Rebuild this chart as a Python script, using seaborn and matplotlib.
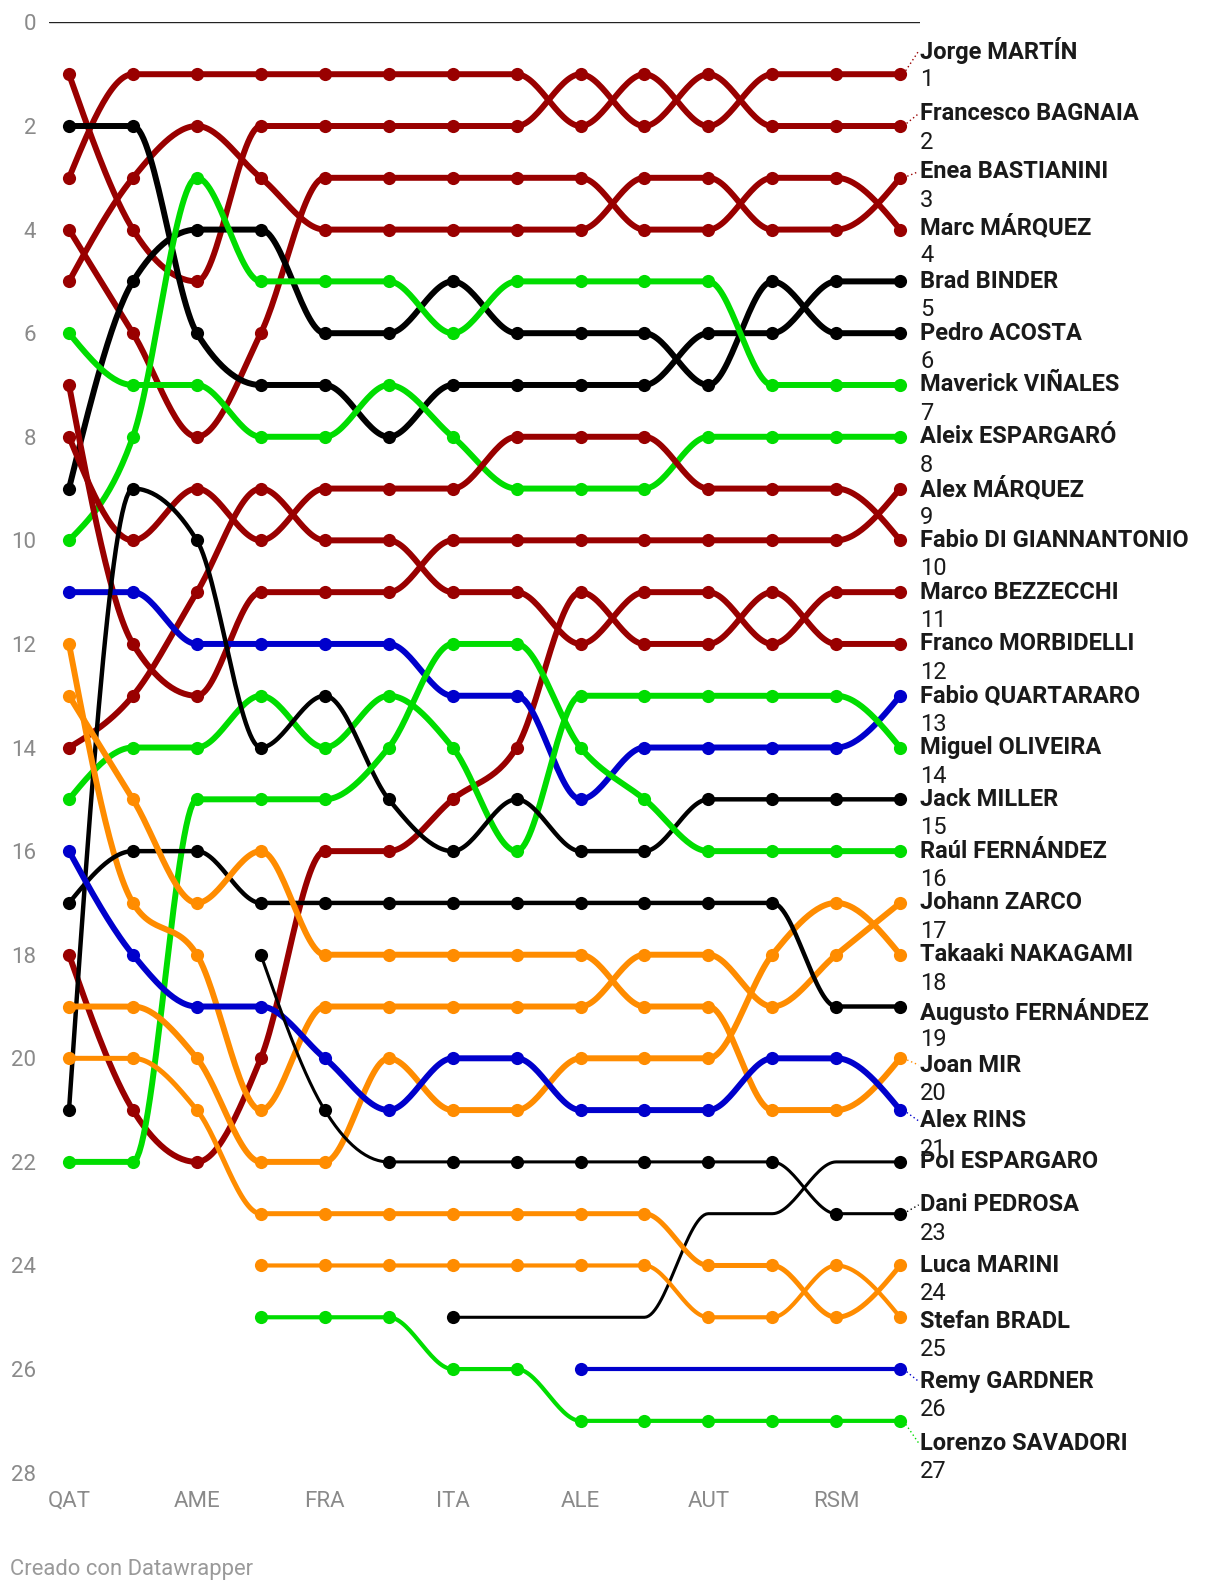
"""
MotoGP 2024 championship positions after each round (bump chart)
"""

import numpy as np
import pandas as pd
import matplotlib
matplotlib.use("Agg")
import matplotlib.pyplot as plt
import seaborn as sns

# rounds (only every second one gets a tick label)
rounds = ["QAT", "POR", "AME", "ESP", "FRA", "CAT", "ITA",
          "NED", "ALE", "GBR", "AUT", "ARA", "RSM", "EMI"]

# position after each round, None = not in the standings yet
martin = [3, 1, 1, 1, 1, 1, 1, 1, 2, 1, 2, 1, 1, 1]
bagnaia = [1, 4, 5, 2, 2, 2, 2, 2, 1, 2, 1, 2, 2, 2]
bastianini = [5, 3, 2, 3, 4, 4, 4, 4, 4, 3, 3, 4, 4, 3]
marc_marquez = [4, 6, 8, 6, 3, 3, 3, 3, 3, 4, 4, 3, 3, 4]
binder = [2, 2, 6, 7, 7, 8, 7, 7, 7, 7, 6, 6, 5, 5]
acosta = [9, 5, 4, 4, 6, 6, 5, 6, 6, 6, 7, 5, 6, 6]
vinales = [10, 8, 3, 5, 5, 5, 6, 5, 5, 5, 5, 7, 7, 7]
aleix = [6, 7, 7, 8, 8, 7, 8, 9, 9, 9, 8, 8, 8, 8]
alex_marquez = [7, 12, 13, 11, 11, 11, 10, 10, 10, 10, 10, 10, 10, 9]
diggia = [8, 10, 9, 10, 9, 9, 9, 8, 8, 8, 9, 9, 9, 10]
bezzecchi = [14, 13, 11, 9, 10, 10, 11, 11, 12, 11, 11, 12, 11, 11]
morbidelli = [18, 21, 22, 20, 16, 16, 15, 14, 11, 12, 12, 11, 12, 12]
quartararo = [11, 11, 12, 12, 12, 12, 13, 13, 15, 14, 14, 14, 14, 13]
oliveira = [15, 14, 14, 13, 14, 13, 14, 16, 13, 13, 13, 13, 13, 14]
miller = [21, 9, 10, 14, 13, 15, 16, 15, 16, 16, 15, 15, 15, 15]
raul = [22, 22, 15, 15, 15, 14, 12, 12, 14, 15, 16, 16, 16, 16]
zarco = [12, 17, 18, 21, 19, 19, 19, 19, 19, 18, 18, 19, 18, 17]
nakagami = [19, 19, 20, 22, 22, 20, 21, 21, 20, 20, 20, 18, 17, 18]
augusto = [17, 16, 16, 17, 17, 17, 17, 17, 17, 17, 17, 17, 19, 19]
mir = [13, 15, 17, 16, 18, 18, 18, 18, 18, 19, 19, 21, 21, 20]
rins = [16, 18, 19, 19, 20, 21, 20, 20, 21, 21, 21, 20, 20, 21]
pol = [None, None, None, None, None, None, 25, 25, 25, 25, 23, 23, 22, 22]
pedrosa = [None, None, None, 18, 21, 22, 22, 22, 22, 22, 22, 22, 23, 23]
marini = [20, 20, 21, 23, 23, 23, 23, 23, 23, 23, 24, 24, 25, 24]
bradl = [None, None, None, 24, 24, 24, 24, 24, 24, 24, 25, 25, 24, 25]
gardner = [None, None, None, None, None, None, None, None, 26, 26, 26, 26, 26, 26]
savadori = [None, None, None, 25, 25, 25, 26, 26, 27, 27, 27, 27, 27, 27]

riders = ["Jorge MARTÍN", "Francesco BAGNAIA", "Enea BASTIANINI", "Marc MÁRQUEZ",
          "Brad BINDER", "Pedro ACOSTA", "Maverick VIÑALES", "Aleix ESPARGARÓ",
          "Alex MÁRQUEZ", "Fabio DI GIANNANTONIO", "Marco BEZZECCHI",
          "Franco MORBIDELLI", "Fabio QUARTARARO", "Miguel OLIVEIRA", "Jack MILLER",
          "Raúl FERNÁNDEZ", "Johann ZARCO", "Takaaki NAKAGAMI", "Augusto FERNÁNDEZ",
          "Joan MIR", "Alex RINS", "Pol ESPARGARO", "Dani PEDROSA", "Luca MARINI",
          "Stefan BRADL", "Remy GARDNER", "Lorenzo SAVADORI"]
brands = ["ducati", "ducati", "ducati", "ducati", "ktm", "ktm", "aprilia", "aprilia",
          "ducati", "ducati", "ducati", "ducati", "yamaha", "aprilia", "ktm",
          "aprilia", "honda", "honda", "ktm", "honda", "yamaha", "ktm", "ktm",
          "honda", "honda", "yamaha", "aprilia"]
standings = [martin, bagnaia, bastianini, marc_marquez, binder, acosta, vinales, aleix,
             alex_marquez, diggia, bezzecchi, morbidelli, quartararo, oliveira, miller,
             raul, zarco, nakagami, augusto, mir, rins, pol, pedrosa, marini, bradl,
             gardner, savadori]

palette = {"ducati": "#990000", "ktm": "#000000", "aprilia": "#00dd00",
           "yamaha": "#0000cc", "honda": "#ff8c00"}

# line widths in pt (default 4.3)
widths = {"Jack MILLER": 3.2, "Augusto FERNÁNDEZ": 3.2, "Dani PEDROSA": 2.2,
          "Pol ESPARGARO": 2.2, "Stefan BRADL": 3.0, "Remy GARDNER": 3.0,
          "Lorenzo SAVADORI": 3.0, "Luca MARINI": 3.6}
# riders that only get a marker on first and last value
ends_only = ["Pol ESPARGARO", "Remy GARDNER"]
# label nudges (in rows) where the labels were spread apart
label_shift = {"Jorge MARTÍN": -0.45, "Francesco BAGNAIA": -0.24, "Enea BASTIANINI": -0.12,
               "Marc MÁRQUEZ": -0.05, "Augusto FERNÁNDEZ": 0.09, "Joan MIR": 0.13,
               "Alex RINS": 0.21, "Dani PEDROSA": -0.17, "Stefan BRADL": 0.08,
               "Remy GARDNER": 0.24, "Lorenzo SAVADORI": 0.43}
# the value under this label is hidden behind the next one in the original
no_number = ["Pol ESPARGARO"]


def monotone_curve(xs, ys, steps=30):
    """Same smoothing as d3.curveMonotoneX, sampled as cubic beziers"""
    xs = np.asarray(xs, dtype=float)
    ys = np.asarray(ys, dtype=float)
    n = len(xs)
    if n < 3:
        return xs, ys
    h = np.diff(xs)
    s = np.diff(ys) / h
    t = np.zeros(n)
    for i in range(1, n - 1):
        p = (s[i - 1] * h[i] + s[i] * h[i - 1]) / (h[i - 1] + h[i])
        sg = (-1 if s[i - 1] < 0 else 1) + (-1 if s[i] < 0 else 1)
        t[i] = sg * min(abs(s[i - 1]), abs(s[i]), 0.5 * abs(p))
    t[0] = (3 * s[0] - t[1]) / 2
    t[-1] = (3 * s[-1] - t[-2]) / 2

    u = np.linspace(0, 1, steps + 1)[1:]
    out_x, out_y = [xs[0]], [ys[0]]
    for i in range(n - 1):
        dx = h[i] / 3
        px = [xs[i], xs[i] + dx, xs[i + 1] - dx, xs[i + 1]]
        py = [ys[i], ys[i] + dx * t[i], ys[i + 1] - dx * t[i + 1], ys[i + 1]]
        b = [(1 - u) ** 3, 3 * (1 - u) ** 2 * u, 3 * (1 - u) * u ** 2, u ** 3]
        out_x.extend(sum(b[k] * px[k] for k in range(4)))
        out_y.extend(sum(b[k] * py[k] for k in range(4)))
    return np.array(out_x), np.array(out_y)


sns.set_style("white")
plt.rcParams["font.family"] = ["Roboto", "DejaVu Sans"]

fig = plt.figure(figsize=(12.2, 15.9), dpi=100)
ax = fig.add_axes([0.0399, 0.0738, 0.7142, 0.9121])

ax.axhline(0, color="#222222", lw=1.0, zorder=1)

for name, brand, pos in zip(riders, brands, standings):
    df = pd.DataFrame({"round": np.arange(len(rounds)), "pos": pos}).dropna()
    color = palette[brand]
    cx, cy = monotone_curve(df["round"], df["pos"])
    sns.lineplot(x=cx, y=cy, sort=False, estimator=None, color=color,
                 lw=widths.get(name, 4.3), ax=ax, zorder=2)
    dots = df.iloc[[0, -1]] if name in ends_only else df
    sns.scatterplot(x=dots["round"], y=dots["pos"], color=color, s=90,
                    linewidth=0, ax=ax, zorder=3)

    # label at the end of the line
    final = df["pos"].iloc[-1]
    ly = final + label_shift.get(name, 0.0)
    lx = 13.31
    if abs(ly - final) > 0.1:
        ax.plot([13.05, lx - 0.02], [final, ly], color=color, lw=1.0,
                ls=(0, (1, 2)), clip_on=False, zorder=2)
    ax.text(lx, ly, name, fontsize=17, fontweight="bold", color="#1a1a1a",
            va="center", ha="left", clip_on=False)
    if name not in no_number:
        ax.text(lx, ly + 0.55, f"{int(final)}", fontsize=17, color="#1a1a1a",
                va="center", ha="left", clip_on=False)

ax.set_xlim(-0.318, 13.31)
ax.set_ylim(28, 0)
ax.set_xticks(range(0, len(rounds), 2))
ax.set_xticklabels(rounds[::2])
ax.set_yticks(range(0, 29, 2))
ax.set_xlabel("")
ax.set_ylabel("")
ax.tick_params(axis="y", length=0, pad=9, labelsize=16, labelcolor="#8a8a8a")
ax.tick_params(axis="x", length=0, pad=13, labelsize=16, labelcolor="#8a8a8a")
sns.despine(ax=ax, left=True, bottom=True)

fig.text(10 / 1220, 1 - 1569 / 1590, "Creado con Datawrapper", fontsize=15.8,
         color="#9a9a9a", va="center", ha="left")

fig.savefig("out.png", dpi=100)
